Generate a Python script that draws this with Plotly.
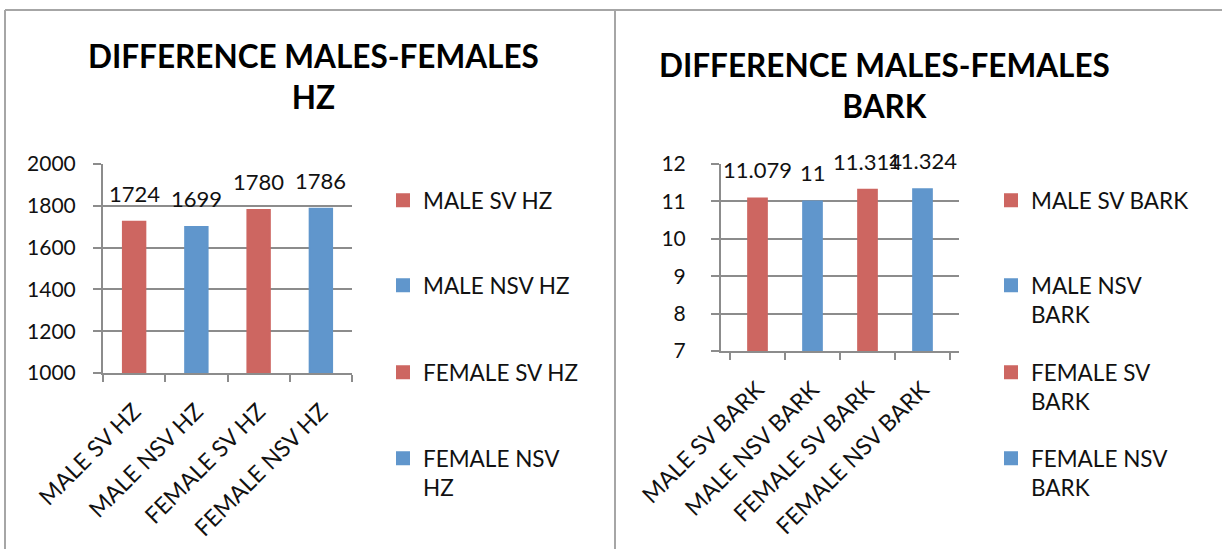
import plotly.graph_objects as go

# Category names, values and legend entries for the two panels
hz_categories = ["MALE SV HZ", "MALE NSV HZ", "FEMALE SV HZ", "FEMALE NSV HZ"]
hz_values = [1724, 1699, 1780, 1786]
hz_legend_names = ["MALE SV HZ", "MALE NSV HZ", "FEMALE SV HZ", "FEMALE NSV<br>HZ"]

bark_categories = ["MALE SV BARK", "MALE NSV BARK", "FEMALE SV BARK", "FEMALE NSV BARK"]
bark_values = [11.079, 11, 11.314, 11.324]
bark_legend_names = ["MALE SV BARK", "MALE NSV<br>BARK", "FEMALE SV<br>BARK", "FEMALE NSV<br>BARK"]

hz_title = "DIFFERENCE MALES-FEMALES<br>HZ"
bark_title = "DIFFERENCE MALES-FEMALES<br>BARK"

RED = "#CD6661"
BLUE = "#6096CC"
bar_colors = [RED, BLUE, RED, BLUE]

W, H = 1222, 549
FONT = "Lato"
TEXT = "#111111"
GRID = "#8c8c8c"


def px(x):
    return x / W


def py(y):
    return 1 - y / H


fig = go.Figure()

panels = [
    dict(cats=hz_categories, vals=hz_values, names=hz_legend_names,
         xa="x", ya="y", width=0.36, legend_x=383, first_legend=1),
    dict(cats=bark_categories, vals=bark_values, names=bark_legend_names,
         xa="x2", ya="y2", width=0.34, legend_x=991, first_legend=5),
]

legend_rows = [191, 276, 363, 449]

layout_legends = {}
annotations = []
for p in panels:
    for i, (cat, val, name, col) in enumerate(zip(p["cats"], p["vals"], p["names"], bar_colors)):
        n = p["first_legend"] + i
        lname = "legend" if n == 1 else f"legend{n}"
        fig.add_trace(go.Bar(
            x=[cat], y=[val], name=name, xaxis=p["xa"], yaxis=p["ya"],
            width=p["width"], marker=dict(color=col, line=dict(color=col, width=2)),
            legend=lname, showlegend=True, hoverinfo="skip",
        ))
        layout_legends[lname] = dict(
            xref="container", yref="container",
            x=px(p["legend_x"]), y=py(legend_rows[i] - 12), xanchor="left", yanchor="top",
            valign="top", bgcolor="rgba(0,0,0,0)", borderwidth=0,
            font=dict(family=FONT, size=22.5, color=TEXT),
        )
        # value label above each bar
        annotations.append(dict(
            x=cat, y=val, xref=p["xa"], yref=p["ya"], text=f"{val:g}",
            showarrow=False, yanchor="bottom", yshift=13,
            font=dict(family=FONT, size=22, color=TEXT),
        ))

# chart titles
annotations.append(dict(
    x=px(313), y=py(35), xref="paper", yref="paper", text=f"<b>{hz_title}</b>",
    showarrow=False, xanchor="center", yanchor="top",
    font=dict(family=FONT, size=31.5, color="#000000"),
))
annotations.append(dict(
    x=px(884), y=py(44), xref="paper", yref="paper", text=f"<b>{bark_title}</b>",
    showarrow=False, xanchor="center", yanchor="top",
    font=dict(family=FONT, size=31.5, color="#000000"),
))

axis_common = dict(showline=True, linecolor=GRID, linewidth=2, automargin=False)
x_axis_common = dict(
    type="category", tickson="boundaries", ticks="outside", ticklen=7,
    tickcolor=GRID, tickwidth=2, tickangle=-45, showgrid=False, ticklabelstandoff=14,
    tickfont=dict(family=FONT, size=23, color=TEXT), **axis_common,
)
y_axis_common = dict(
    ticks="outside", ticklen=8, tickcolor=GRID, tickwidth=2,
    showgrid=True, gridcolor=GRID, gridwidth=2, zeroline=False,
    tickfont=dict(family=FONT, size=21, color=TEXT), **axis_common,
)

frame_color = "#a6a6a6"
shapes = [
    dict(type="line", xref="paper", yref="paper", x0=px(5), x1=1, y0=py(10), y1=py(10),
         line=dict(color=frame_color, width=2)),
    dict(type="line", xref="paper", yref="paper", x0=px(5), x1=px(5), y0=py(10), y1=0,
         line=dict(color=frame_color, width=2)),
    dict(type="line", xref="paper", yref="paper", x0=px(615), x1=px(615), y0=py(10), y1=0,
         line=dict(color=frame_color, width=2)),
]

fig.update_layout(
    width=W, height=H, margin=dict(l=0, r=0, t=0, b=0, autoexpand=False),
    paper_bgcolor="white", plot_bgcolor="white",
    barmode="overlay", showlegend=True,
    annotations=annotations, shapes=shapes,
    xaxis=dict(domain=[px(103), px(352)], anchor="y", **x_axis_common),
    yaxis=dict(domain=[py(373), py(164)], anchor="x", range=[1000, 2000], dtick=200,
               ticklabelstandoff=13, **y_axis_common),
    xaxis2=dict(domain=[px(721), px(959)], anchor="y2", **x_axis_common),
    yaxis2=dict(domain=[py(351), py(164)], anchor="x2", range=[7, 12], dtick=1,
                ticklabelstandoff=21, **y_axis_common),
    **layout_legends,
)

fig.write_html("out.html")
